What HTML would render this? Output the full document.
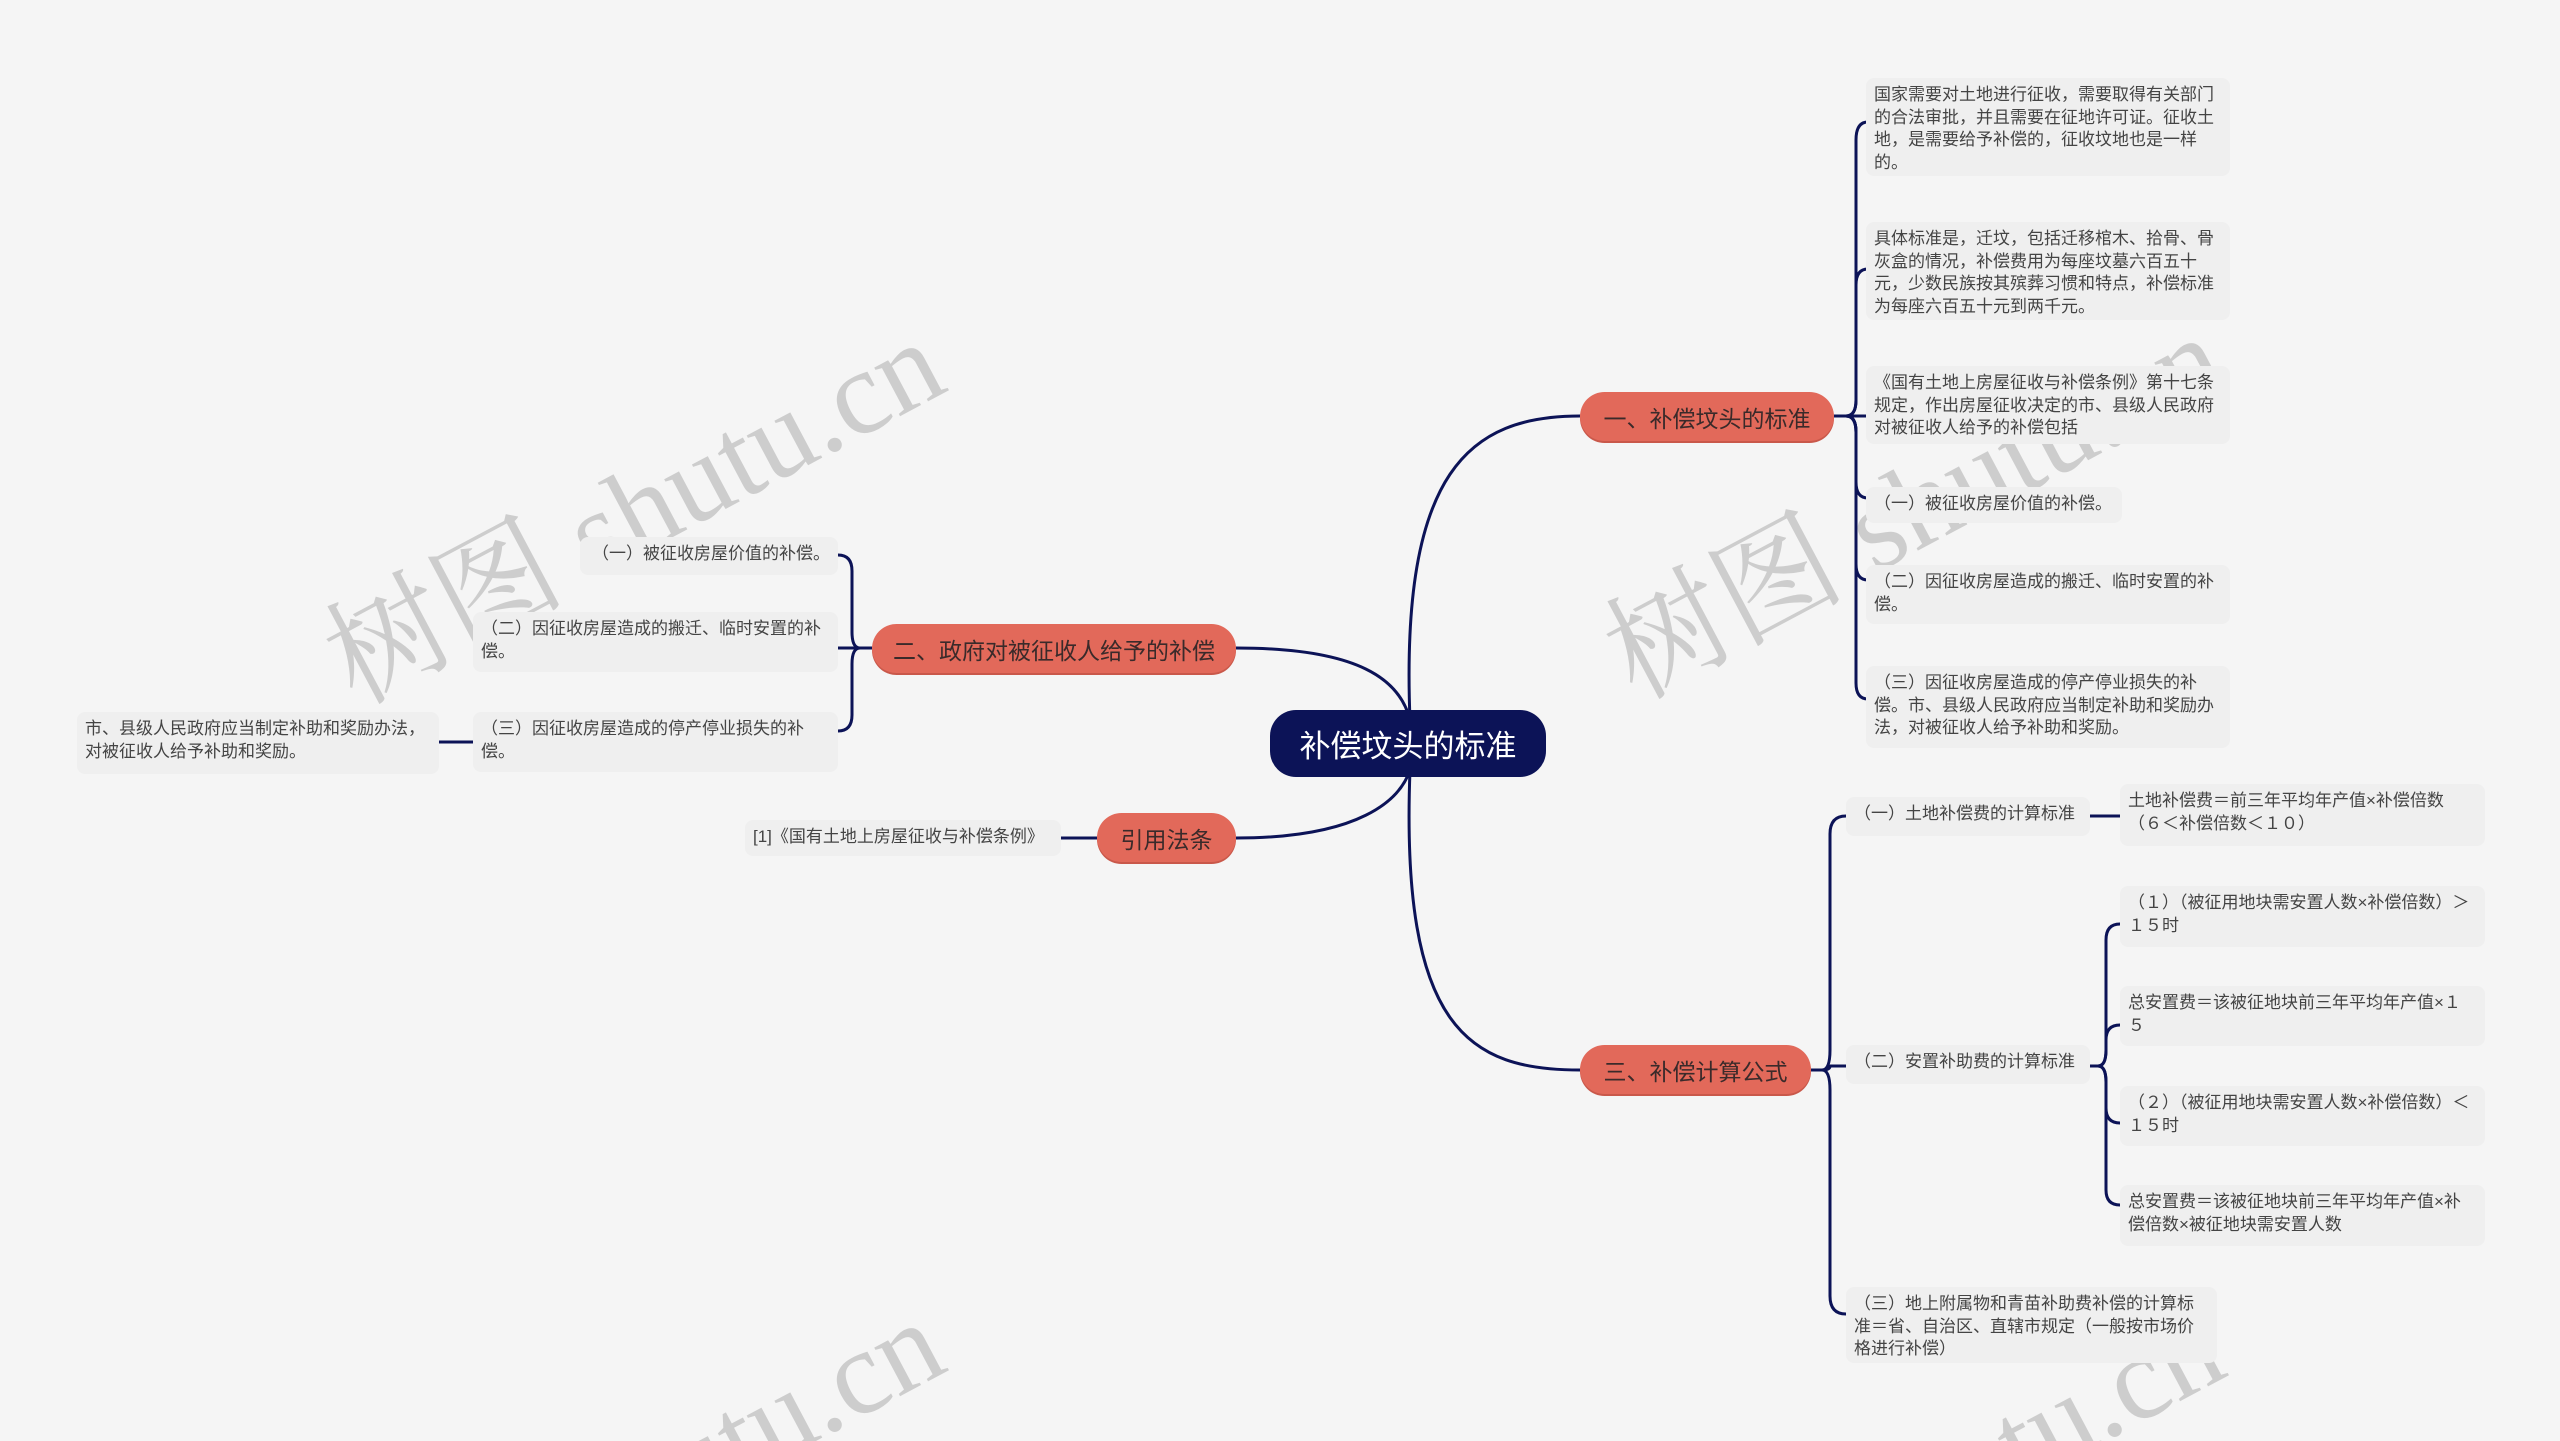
<!DOCTYPE html>
<html><head><meta charset="utf-8"><style>
html,body{margin:0;padding:0;width:2560px;height:1441px;overflow:hidden}
#w{width:2560px;height:1441px;background:#f5f5f5;position:relative;overflow:hidden;font-family:"Liberation Sans","Noto Sans CJK SC",sans-serif}
.b{position:absolute;background:#efefef;border-radius:8px;color:#444;font-size:17px;line-height:22.5px;padding:6px 8px;box-sizing:border-box;word-break:break-all}
.br{position:absolute;background:#e2695a;border-radius:25px;color:#3a2a2a;font-size:23px;display:flex;align-items:center;justify-content:center;box-sizing:border-box;box-shadow:0 2px 0 #c9584a}
.c{position:absolute;background:#0c1357;border-radius:26px;color:#fff;font-size:31px;display:flex;align-items:center;justify-content:center}
svg{position:absolute;left:0;top:0;overflow:hidden}
.wm{font-family:"Liberation Serif","Noto Serif CJK SC",serif;font-size:120px;fill:rgba(0,0,0,0.16);stroke:none}
</style></head><body><div id="w">
<svg width="2560" height="1441" fill="none" stroke="#0c1357" stroke-width="3">
<text class="wm" x="635" y="552" text-anchor="middle" transform="rotate(-28 635 513)">树图 shutu.cn</text>
<text class="wm" x="1915" y="547" text-anchor="middle" transform="rotate(-28 1915 508)">树图 shutu.cn</text>
<text class="wm" x="635" y="1532" text-anchor="middle" transform="rotate(-28 635 1493)">树图 shutu.cn</text>
<text class="wm" x="1915" y="1537" text-anchor="middle" transform="rotate(-28 1915 1498)">树图 shutu.cn</text>
<path d="M1410,720 C1400,470 1470,416 1580,416"/>
<path d="M1410,770 C1400,1030 1470,1070 1580,1070"/>
<path d="M1236,648 C1360,648 1400,680 1410,720"/>
<path d="M1236,838 C1360,838 1400,800 1410,770"/>
<path d="M1834,416 L1846,416"/>
<path d="M1846,416 Q1856,416 1856,400 L1856,140 Q1856,122 1868,122"/>
<path d="M1846,416 Q1856,416 1856,400 L1856,285 Q1856,269 1868,269"/>
<path d="M1846,416 L1868,416"/>
<path d="M1846,416 Q1856,416 1856,432 L1856,482 Q1856,498 1868,498"/>
<path d="M1846,416 Q1856,416 1856,432 L1856,564 Q1856,580 1868,580"/>
<path d="M1846,416 Q1856,416 1856,432 L1856,683 Q1856,699 1868,699"/>
<path d="M1811,1070 L1822,1070"/>
<path d="M1822,1070 Q1830,1070 1830,1050 L1830,834 Q1830,816 1846,816"/>
<path d="M1822,1070 Q1830,1070 1830,1066 L1846,1066"/>
<path d="M1822,1070 Q1830,1070 1830,1090 L1830,1296 Q1830,1314 1846,1314"/>
<path d="M2090,816 L2120,816"/>
<path d="M2090,1066 L2098,1066"/>
<path d="M2098,1066 Q2106,1066 2106,1050 L2106,940 Q2106,924 2120,924"/>
<path d="M2098,1066 Q2106,1066 2106,1050 L2106,1040 Q2106,1025 2120,1025"/>
<path d="M2098,1066 Q2106,1066 2106,1082 L2106,1108 Q2106,1123 2120,1123"/>
<path d="M2098,1066 Q2106,1066 2106,1082 L2106,1190 Q2106,1205 2120,1205"/>
<path d="M872,648 L860,648"/>
<path d="M860,648 Q852,648 852,632 L852,571 Q852,555 838,555"/>
<path d="M860,648 L838,648"/>
<path d="M860,648 Q852,648 852,664 L852,715 Q852,731 838,731"/>
<path d="M473,742 L439,742"/>
<path d="M1097,838 L1061,838"/>
</svg>

<div class="c" style="left:1270px;top:710px;width:276px;height:67px">补偿坟头的标准</div>
<div class="br" style="left:1580px;top:392px;width:254px;height:49px">一、补偿坟头的标准</div>
<div class="br" style="left:872px;top:624px;width:364px;height:49px">二、政府对被征收人给予的补偿</div>
<div class="br" style="left:1097px;top:813px;width:139px;height:49px">引用法条</div>
<div class="br" style="left:1580px;top:1045px;width:231px;height:49px">三、补偿计算公式</div>

<div class="b" style="left:1866px;top:78px;width:364px;height:98px">国家需要对土地进行征收，需要取得有关部门的合法审批，并且需要在征地许可证。征收土地，是需要给予补偿的，征收坟地也是一样的。</div>
<div class="b" style="left:1866px;top:222px;width:364px;height:98px">具体标准是，迁坟，包括迁移棺木、拾骨、骨灰盒的情况，补偿费用为每座坟墓六百五十元，少数民族按其殡葬习惯和特点，补偿标准为每座六百五十元到两千元。</div>
<div class="b" style="left:1866px;top:366px;width:364px;height:78px">《国有土地上房屋征收与补偿条例》第十七条规定，作出房屋征收决定的市、县级人民政府对被征收人给予的补偿包括</div>
<div class="b" style="left:1866px;top:487px;width:256px;height:36px">（一）被征收房屋价值的补偿。</div>
<div class="b" style="left:1866px;top:565px;width:364px;height:59px">（二）因征收房屋造成的搬迁、临时安置的补偿。</div>
<div class="b" style="left:1866px;top:666px;width:364px;height:82px">（三）因征收房屋造成的停产停业损失的补偿。市、县级人民政府应当制定补助和奖励办法，对被征收人给予补助和奖励。</div>

<div class="b" style="left:1846px;top:797px;width:244px;height:39px">（一）土地补偿费的计算标准</div>
<div class="b" style="left:2120px;top:784px;width:365px;height:62px">土地补偿费＝前三年平均年产值×补偿倍数（６＜补偿倍数＜１０）</div>
<div class="b" style="left:1846px;top:1045px;width:244px;height:39px">（二）安置补助费的计算标准</div>
<div class="b" style="left:2120px;top:886px;width:365px;height:61px">（１）（被征用地块需安置人数×补偿倍数）＞１５时</div>
<div class="b" style="left:2120px;top:986px;width:365px;height:60px">总安置费＝该被征地块前三年平均年产值×１５</div>
<div class="b" style="left:2120px;top:1086px;width:365px;height:60px">（２）（被征用地块需安置人数×补偿倍数）＜１５时</div>
<div class="b" style="left:2120px;top:1185px;width:365px;height:61px">总安置费＝该被征地块前三年平均年产值×补偿倍数×被征地块需安置人数</div>
<div class="b" style="left:1846px;top:1287px;width:371px;height:76px">（三）地上附属物和青苗补助费补偿的计算标准＝省、自治区、直辖市规定（一般按市场价格进行补偿）</div>

<div class="b" style="left:580px;top:537px;width:258px;height:38px;text-align:right">（一）被征收房屋价值的补偿。</div>
<div class="b" style="left:473px;top:612px;width:365px;height:60px">（二）因征收房屋造成的搬迁、临时安置的补偿。</div>
<div class="b" style="left:473px;top:712px;width:365px;height:60px">（三）因征收房屋造成的停产停业损失的补偿。</div>
<div class="b" style="left:77px;top:712px;width:362px;height:62px">市、县级人民政府应当制定补助和奖励办法，对被征收人给予补助和奖励。</div>
<div class="b" style="left:745px;top:820px;width:316px;height:36px">[1]《国有土地上房屋征收与补偿条例》</div>
</div></body></html>
